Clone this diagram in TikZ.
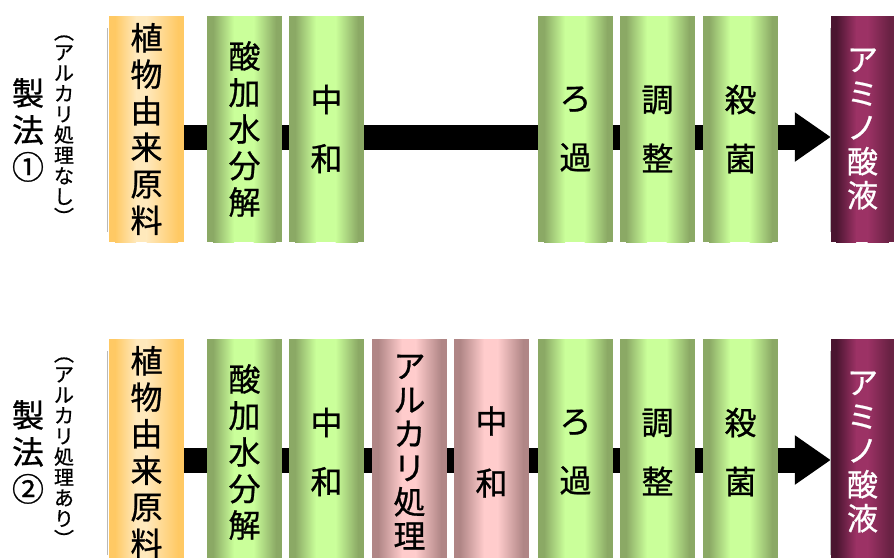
\documentclass[tikz,border=0pt]{standalone}
\usepackage{fontspec}
\newfontfamily\jp[FakeBold=0.8]{Noto Sans CJK JP}
\usetikzlibrary{arrows.meta,backgrounds,calc}
\definecolor{gD}{HTML}{8BA965}
\definecolor{gL}{HTML}{CAFF9A}
\definecolor{oD}{HTML}{FFC964}
\definecolor{oL}{HTML}{FFE9BC}
\definecolor{pD}{HTML}{B08686}
\definecolor{pL}{HTML}{FFCCCC}
\definecolor{uD}{HTML}{4A1530}
\definecolor{uL}{HTML}{9C3265}
\definecolor{uR}{HTML}{6A2244}
\tikzset{
  cyl/.style n args={5}{path picture={
    \coordinate (sw) at (path picture bounding box.south west);
    \coordinate (ne) at (path picture bounding box.north east);
    \fill[#1] (sw) rectangle ($(sw|-ne)!0.08!(ne)$);
    \shade[left color=#1, right color=#2] ($(sw)!0.08!(sw-|ne)$) rectangle ($(sw|-ne)!#4!(ne)$);
    \fill[#2] ($(sw)!#4!(sw-|ne)$) rectangle ($(sw|-ne)!#5!(ne)$);
    \shade[left color=#2, right color=#3] ($(sw)!#5!(sw-|ne)$) rectangle ($(sw|-ne)!0.92!(ne)$);
    \fill[#3] ($(sw)!0.92!(sw-|ne)$) rectangle (ne);
  }},
  box/.style={minimum width=75pt, minimum height=226pt, inner sep=0pt, align=center,
    font=\jp\fontsize{32}{36.5}\selectfont},
  obox/.style={box, cyl={oD}{oL}{oD}{0.36}{0.5}},
  gbox/.style={box, cyl={gD}{gL}{gD}{0.36}{0.62}},
  gtwo/.style={gbox, font=\jp\fontsize{32}{59}\selectfont},
  pbox/.style={box, cyl={pD}{pL}{pD}{0.4}{0.58}, font=\jp\fontsize{32}{34}\selectfont},
  ptwo/.style={pbox, font=\jp\fontsize{32}{62}\selectfont},
  ubox/.style={box, minimum width=63pt, cyl={uD}{uL}{uR}{0.4}{0.58}, text=white,
    font=\jp\fontsize{31}{34}\selectfont},
  mlabel/.style={align=center, inner sep=0pt, font=\jp\fontsize{32}{37}\selectfont},
  slabel/.style={align=center, inner sep=0pt, font=\jp\fontsize{20}{20.6}\selectfont},
  flow/.style={line width=25pt, -{Triangle[length=36pt,width=47pt]}},
  edge/.style={draw=gray!55, line width=0.9pt}
}
\begin{document}
\begin{tikzpicture}[x=1pt,y=-1pt]
\useasboundingbox (0,0) rectangle (894,557);
% row 1
\node[mlabel] (m1) at (28,130) {製\\法\\①};
\node[slabel] (s1) at (64,130) {︵\\ア\\ル\\カ\\リ\\処\\理\\な\\し\\︶};
\node[obox] (a1) at (146.5,129) {植\\物\\由\\来\\原\\料};
\node[gbox] (b1) at (244.5,129) {酸\\加\\水\\分\\解};
\node[gtwo] (c1) at (326.5,129) {中\\和};
\node[gtwo] (f1) at (575.5,129) {ろ\\過};
\node[gtwo] (g1) at (657.5,129) {調\\整};
\node[gtwo] (h1) at (740.5,129) {殺\\菌};
\node[ubox] (u1) at (862.5,129) {ア\\ミ\\ノ\\酸\\液};
% row 2
\node[mlabel] (m2) at (28,452) {製\\法\\②};
\node[slabel] (s2) at (64,452) {︵\\ア\\ル\\カ\\リ\\処\\理\\あ\\り\\︶};
\node[obox] (a2) at (146.5,452) {植\\物\\由\\来\\原\\料};
\node[gbox] (b2) at (244.5,452) {酸\\加\\水\\分\\解};
\node[gtwo] (c2) at (326.5,452) {中\\和};
\node[pbox] (d2) at (409.5,452) {ア\\ル\\カ\\リ\\処\\理};
\node[ptwo] (e2) at (491.5,452) {中\\和};
\node[gtwo] (f2) at (575.5,452) {ろ\\過};
\node[gtwo] (g2) at (657.5,452) {調\\整};
\node[gtwo] (h2) at (740.5,452) {殺\\菌};
\node[ubox] (u2) at (862.5,452) {ア\\ミ\\ノ\\酸\\液};
% thin edge lines
\draw[edge] ([xshift=-1pt,yshift=-12pt]a1.north west) -- ([xshift=-1pt,yshift=10pt]a1.south west);
\draw[edge] ([xshift=0pt,yshift=-12pt]u1.north west) -- ([xshift=0pt,yshift=10pt]u1.south west);
\draw[edge] ([xshift=-1pt,yshift=-12pt]a2.north west) -- ([xshift=-1pt,yshift=10pt]a2.south west);
\draw[edge] ([xshift=0pt,yshift=-12pt]u2.north west) -- ([xshift=0pt,yshift=10pt]u2.south west);
% flow arrows behind boxes
\begin{scope}[on background layer]
\draw[flow] ([yshift=-8pt]a1.east) -- ([yshift=-8pt]u1.west);
\draw[flow] ([yshift=-8pt]a2.east) -- ([yshift=-8pt]u2.west);
\end{scope}
\end{tikzpicture}
\end{document}
